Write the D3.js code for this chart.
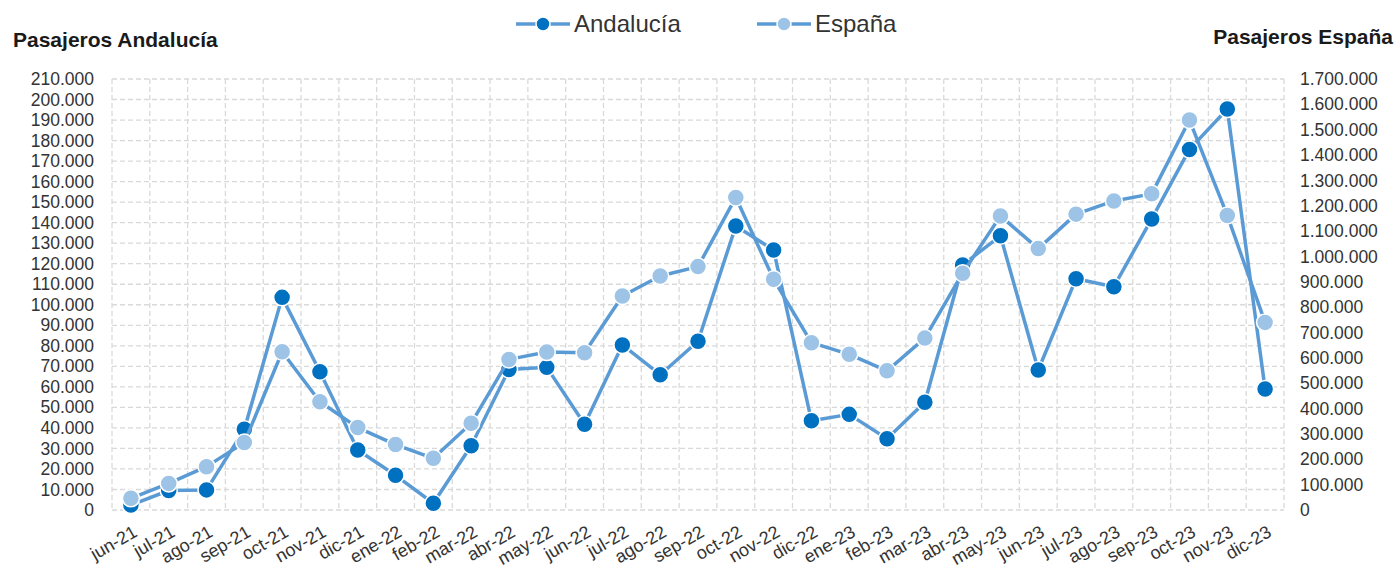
<!DOCTYPE html>
<html>
<head>
<meta charset="utf-8">
<script src="https://cdn.jsdelivr.net/npm/d3@7"></script>
<style>
  body { margin: 0; background: #fff; }
  svg { font-family: "Liberation Sans", Arial, sans-serif; }
</style>
</head>
<body>
<svg></svg>
<script>
const months = ['jun-21','jul-21','ago-21','sep-21','oct-21','nov-21','dic-21',
    'ene-22','feb-22','mar-22','abr-22','may-22','jun-22','jul-22','ago-22','sep-22','oct-22','nov-22','dic-22',
    'ene-23','feb-23','mar-23','abr-23','may-23','jun-23','jul-23','ago-23','sep-23','oct-23','nov-23','dic-23'];

const andalucia = [2400, 9500, 9800, 39300, 103600, 67400, 29200,
    16900, 3300, 31300, 68500, 69500, 41800, 80400, 65900, 82200, 138400, 126700, 43500,
    46600, 34700, 52500, 119400, 133600, 68200, 112700, 108800, 141800, 175700, 195400, 59000];

const espana = [46000, 105000, 171000, 266000, 624000, 427000, 325000,
    258000, 204000, 342000, 594000, 623000, 620000, 844000, 923000, 960000, 1233000, 910000, 660000,
    614000, 549000, 678000, 934000, 1160000, 1031000, 1167000, 1219000, 1247000, 1538000, 1162000, 740000];

const leftTicks = d3.range(0, 210001, 10000);
const rightTicks = d3.range(0, 1700001, 100000);

const size = {w: 1398, h: 569};
const plot = {l: 112, r: 1284, t: 79, b: 510};
const lineColor = '#5B9BD5';
const darkDot = '#0070C0';
const lightDot = '#9DC3E6';
const tickFont = 17.5;

const svg = d3.select('svg')
    .attr('width', size.w)
    .attr('height', size.h);

const es = d3.formatLocale({decimal: ',', thousands: '.', grouping: [3], currency: ['', '€']});
const fmt = es.format(',d');

const x = d3.scaleBand().domain(months).range([plot.l, plot.r]);
const yL = d3.scaleLinear().domain([0, 210000]).range([plot.b, plot.t]);
const yR = d3.scaleLinear().domain([0, 1700000]).range([plot.b, plot.t]);

// grid
const grid = svg.append('g').attr('stroke', '#d9d9d9').attr('stroke-width', 1.3)
    .attr('stroke-dasharray', '5,3');
grid.selectAll('line.h').data(leftTicks).enter().append('line')
    .attr('x1', plot.l).attr('x2', plot.r)
    .attr('y1', d => yL(d)).attr('y2', d => yL(d));
grid.selectAll('line.v').data(months.concat(['end'])).enter().append('line')
    .attr('x1', (d, i) => plot.l + i * x.bandwidth())
    .attr('x2', (d, i) => plot.l + i * x.bandwidth())
    .attr('y1', plot.t).attr('y2', plot.b);

// left axis
const axL = svg.append('g').attr('transform', `translate(${plot.l},0)`)
    .call(d3.axisLeft(yL).tickValues(leftTicks).tickFormat(fmt).tickSize(0).tickPadding(18));
axL.select('.domain').remove();
axL.selectAll('text').attr('font-size', tickFont).attr('fill', '#333').attr('font-family', null);

// right axis
const axR = svg.append('g').attr('transform', `translate(${plot.r},0)`)
    .call(d3.axisRight(yR).tickValues(rightTicks).tickFormat(fmt).tickSize(0).tickPadding(16));
axR.select('.domain').remove();
axR.selectAll('text').attr('font-size', tickFont).attr('fill', '#333').attr('font-family', null);

// bottom axis
const axB = svg.append('g').attr('transform', `translate(0,${plot.b})`)
    .call(d3.axisBottom(x).tickSize(0));
axB.select('.domain').remove();
axB.selectAll('text')
    .attr('font-size', 18).attr('fill', '#333')
    .attr('font-family', null)
    .attr('text-anchor', 'end')
    .attr('dy', null)
    .attr('transform', 'translate(6,23) rotate(-30)');

// lines + markers
function drawSeries(values, scale, fill) {
    const line = d3.line()
        .x((d, i) => x(months[i]) + x.bandwidth() / 2)
        .y(d => scale(d));
    svg.append('path').datum(values)
        .attr('fill', 'none').attr('stroke', lineColor)
        .attr('stroke-width', 3.5).attr('stroke-linejoin', 'round')
        .attr('d', line);
    svg.append('g').selectAll('circle').data(values).enter().append('circle')
        .attr('cx', (d, i) => x(months[i]) + x.bandwidth() / 2)
        .attr('cy', d => scale(d))
        .attr('r', 8.5)
        .attr('fill', fill).attr('stroke', '#fff').attr('stroke-width', 1.5);
}
drawSeries(andalucia, yL, darkDot);
drawSeries(espana, yR, lightDot);

// axis titles
svg.append('text').attr('x', 13).attr('y', 47)
    .attr('font-size', 21).attr('font-weight', 'bold').attr('fill', '#1a1a1a')
    .text('Pasajeros Andalucía');
svg.append('text').attr('x', 1393).attr('y', 44)
    .attr('text-anchor', 'end')
    .attr('font-size', 21).attr('font-weight', 'bold').attr('fill', '#1a1a1a')
    .text('Pasajeros España');

// legend
const legend = [{name: 'Andalucía', fill: darkDot, x: 516}, {name: 'España', fill: lightDot, x: 757}];
const lg = svg.append('g').selectAll('g').data(legend).enter().append('g')
    .attr('transform', d => `translate(${d.x},24)`);
lg.append('line').attr('x1', 0).attr('x2', 54).attr('y1', 0).attr('y2', 0)
    .attr('stroke', lineColor).attr('stroke-width', 3.5);
lg.append('circle').attr('cx', 27).attr('r', 7).attr('fill', d => d.fill)
    .attr('stroke', '#fff').attr('stroke-width', 1.5);
lg.append('text').attr('x', 58).attr('y', 8)
    .attr('font-size', 24).attr('fill', '#333')
    .text(d => d.name);
</script>
</body>
</html>
